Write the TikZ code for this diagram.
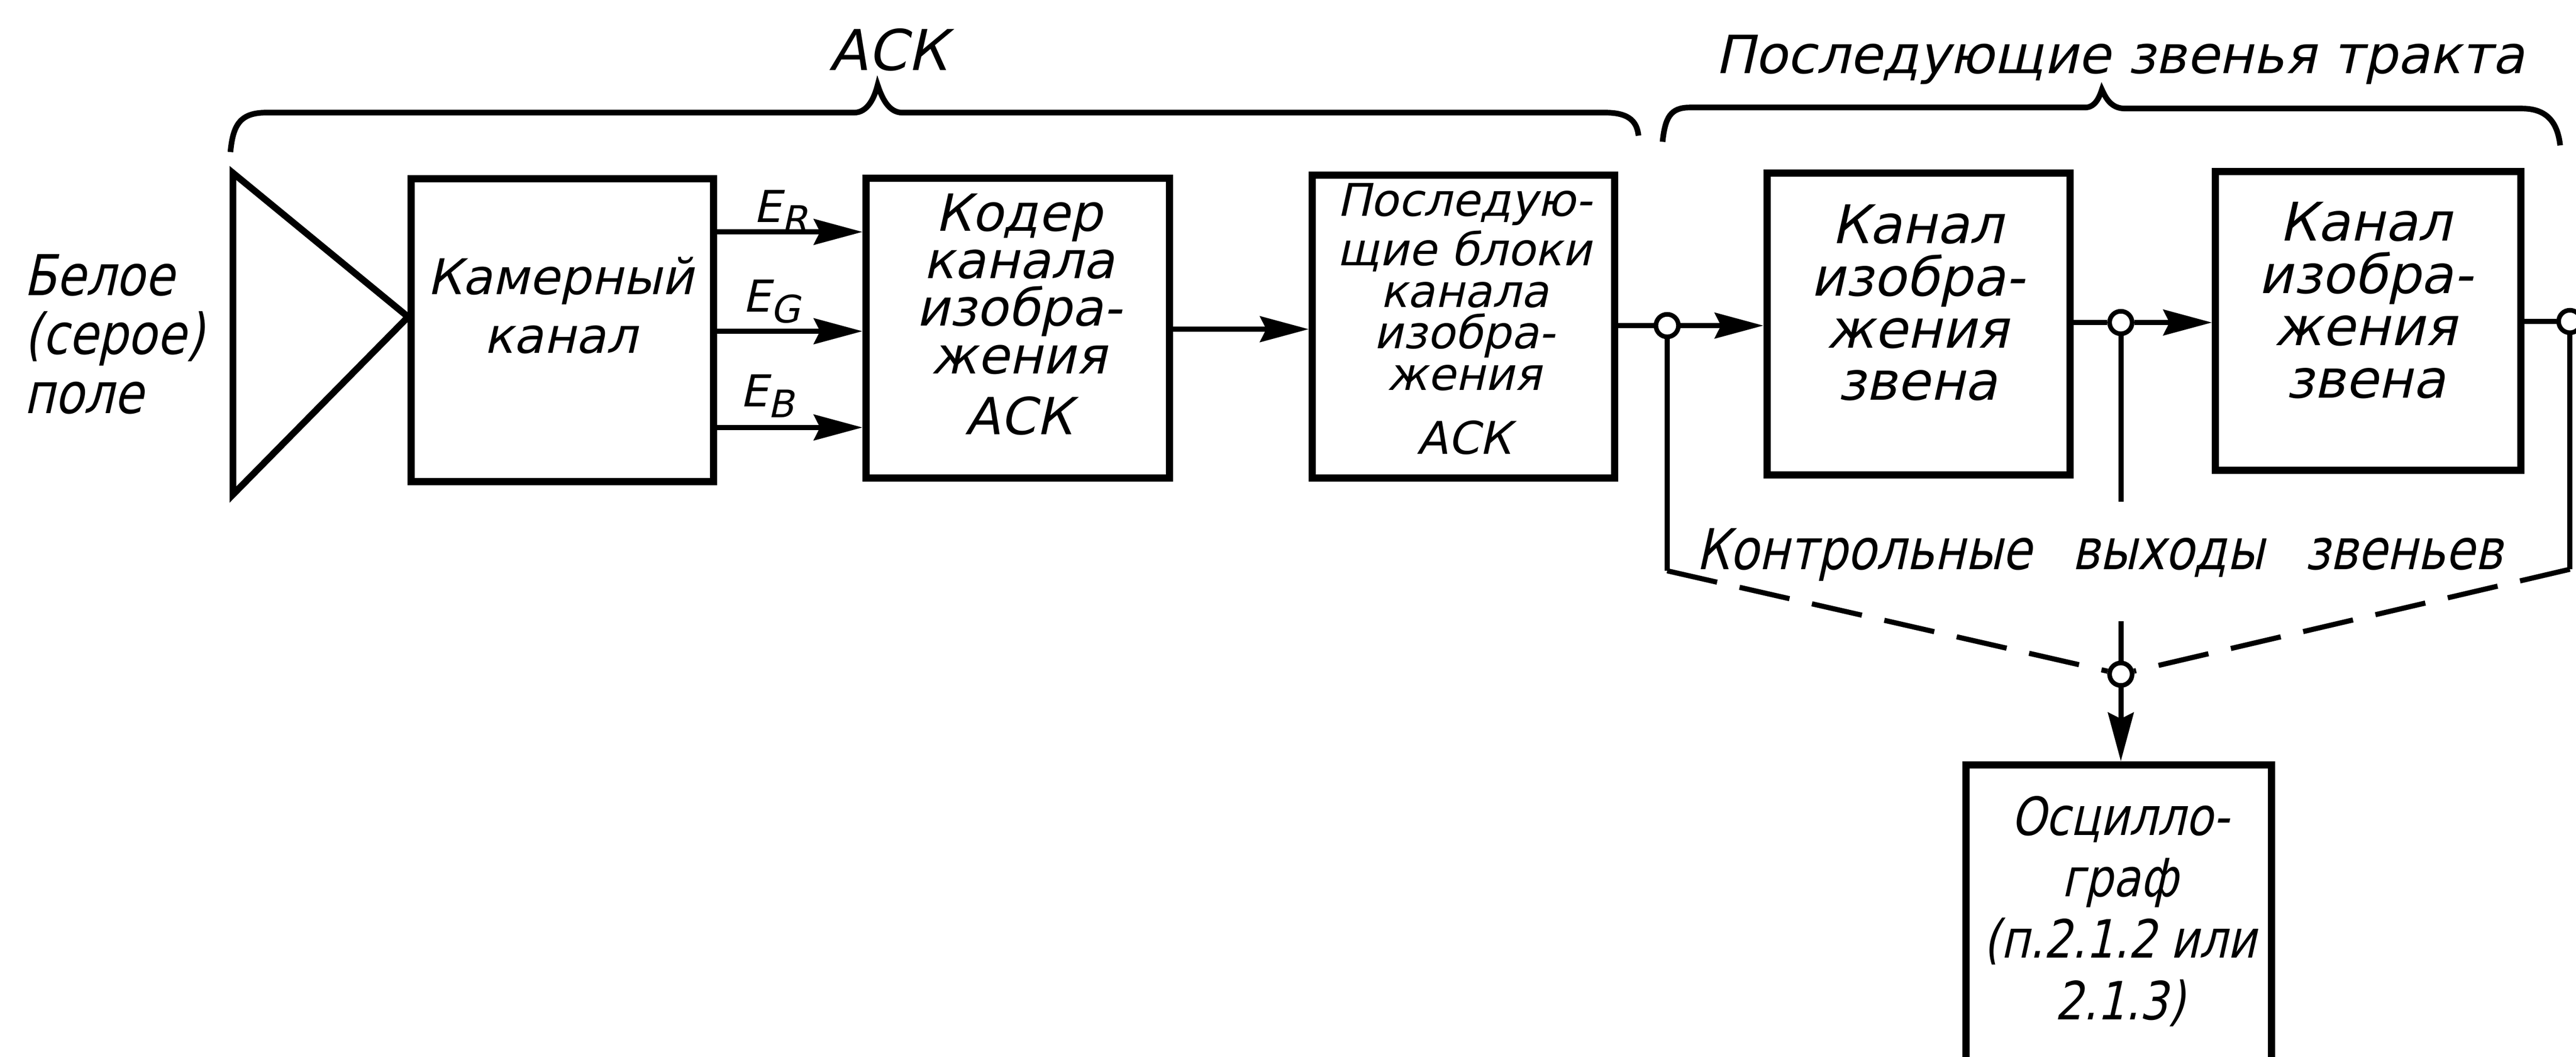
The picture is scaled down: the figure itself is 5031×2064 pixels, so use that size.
\documentclass[tikz,border=0pt]{standalone}
\usepackage{fontspec}
\newfontfamily\gost{DejaVu Sans}[FakeSlant=0.22]
\newfontfamily\gostn{DejaVu Sans}[FakeSlant=0.22,FakeStretch=0.84]
\usetikzlibrary{arrows.meta,calc}
\newcommand\esub[2]{#1\raisebox{-0.45ex}{\fontsize{7.4}{7.4}\selectfont #2}}
\begin{document}
\begin{tikzpicture}[x=0.1pt,y=-0.1pt,
  box/.style={draw,line width=1.4pt,inner sep=0pt},
  con/.style={line width=1pt},
  arr/.style={line width=1pt,-{Stealth[length=9.5pt,width=5pt,inset=1.2pt]}},
  dot/.style={circle,draw,fill=white,line width=0.9pt,minimum size=4.4pt,inner sep=0pt},
  brace/.style={line width=1.1pt},
  dsh/.style={line width=1pt,dash pattern=on 10pt off 4.5pt},
  txt/.style={inner sep=0pt,align=center,anchor=north},
  lab/.style={inner sep=0pt,anchor=base},
]
\useasboundingbox (0,0) rectangle (5031,2064);
\clip (0,0) rectangle (5031,2064);

% source triangle
\draw[line width=1.3pt,line join=miter] (455,338) -- (797,619) -- (455,966) -- cycle;

% boxes
\node[box,minimum width=59.1pt,minimum height=59.2pt] (kam) at (1098,645) {};
\node[box,minimum width=59.3pt,minimum height=58.6pt] (kod) at (1988,641) {};
\node[box,minimum width=59pt,minimum height=59.2pt] (pos) at (2858,638) {};
\node[box,minimum width=59.2pt,minimum height=59pt] (k1) at (3747,633) {};
\node[box,minimum width=59.6pt,minimum height=58.3pt] (k2) at (4625,627) {};
\node[box,minimum width=59.6pt,minimum height=70pt] (osc) at (4138,1844) {};

% box texts
\node[txt,font=\gost\fontsize{9.6}{11.5}\selectfont] (tkam) at (1095,500) {Камерный\\канал};
\node[txt,font=\gost\fontsize{10}{9.3}\selectfont] (tkod) at (1990,376) {Кодер\\канала\\изобра-\\жения\\[2.6pt]АСК};
\node[txt,font=\gost\fontsize{8.8}{8.1}\selectfont] (tpos) at (2860,356) {Последую-\\щие блоки\\канала\\изобра-\\жения\\[4.4pt]АСК};
\node[txt,font=\gost\fontsize{10.4}{10.2}\selectfont] (tk1) at (3745,398) {Канал\\изобра-\\жения\\звена};
\node[txt,font=\gost\fontsize{10.4}{10.2}\selectfont] (tk2) at (4620,393) {Канал\\изобра-\\жения\\звена};
\node[txt,font=\gostn\fontsize{10.3}{12}\selectfont] (tosc) at (4140,1553) {Осцилло-\\граф\\(п.2.1.2 или\\2.1.3)};

% left label
\node[txt,anchor=north west,align=left,font=\gostn\fontsize{11}{11.5}\selectfont] (white) at (45,495) {Белое\\(серое)\\поле};

% signal labels
\node[inner sep=0pt,anchor=base west,font=\gost\fontsize{8.6}{10}\selectfont] (er) at (1470,434) {\esub{E}{R}};
\node[inner sep=0pt,anchor=base west,font=\gost\fontsize{8.6}{10}\selectfont] (eg) at (1448,609) {\esub{E}{G}};
\node[inner sep=0pt,anchor=base west,font=\gost\fontsize{8.6}{10}\selectfont] (eb) at (1443,794) {\esub{E}{B}};

% top labels and braces
\node[lab,font=\gost\fontsize{11}{11}\selectfont] (ack) at (1735,137) {АСК};
\node[lab,font=\gost\fontsize{10.3}{11}\selectfont] (trakt) at (4140,143) {Последующие звенья тракта};
\draw[brace] (450,297) .. controls (455,245) and (468,220) .. (520,220) -- (1668,220)
  .. controls (1695,220) and (1708,190) .. (1714,166)
  .. controls (1722,190) and (1735,220) .. (1762,220) -- (3135,220)
  .. controls (3185,220) and (3197,240) .. (3200,265);
\draw[brace] (3247,277) .. controls (3252,230) and (3262,210) .. (3300,210) -- (4072,210)
  .. controls (4092,210) and (4100,190) .. (4105,175)
  .. controls (4112,190) and (4122,212) .. (4150,212) -- (4925,212)
  .. controls (4975,212) and (4995,240) .. (5000,284);

% junction dots
\node[dot] (c1) at (3256,636) {};
\node[dot] (c2) at (4142,630) {};
\node[dot] (c3) at (5019,628) {};
\node[dot] (cm) at (4142,1317) {};
\coordinate (bl) at (3256,1115);
\coordinate (br) at (5019,1112);
\coordinate (mtop) at (4142,980);
\coordinate (mbot) at (4142,1213);

% connectors
\draw[arr] (kam.east |- 0,453) -- (kod.west |- 0,453);
\draw[arr] (kam.east |- 0,647) -- (kod.west |- 0,647);
\draw[arr] (kam.east |- 0,835) -- (kod.west |- 0,835);
\draw[arr] (kod.east |- 0,643) -- (pos.west |- 0,643);
\draw[con] (pos.east |- c1) -- (c1);
\draw[arr] (c1) -- (k1.west |- c1);
\draw[con] (k1.east |- c2) -- (c2);
\draw[arr] (c2) -- (k2.west |- c2);
\draw[con] (k2.east |- c3) -- (c3);
\draw[con] (c1) -- (bl);
\draw[con] (c3) -- (br);
\draw[con] (c2) -- (mtop);
\draw[con] (mbot) -- (cm);
\draw[dsh] (bl) -- (cm);
\draw[dsh] (br) -- (cm);
\draw[arr] (cm) -- (cm |- osc.north);

\node[lab,font=\gostn\fontsize{11}{11}\selectfont] (ctrl) at (4100,1112) {Контрольные\hspace{0.45em} выходы\hspace{0.45em} звеньев};
\end{tikzpicture}
\end{document}
